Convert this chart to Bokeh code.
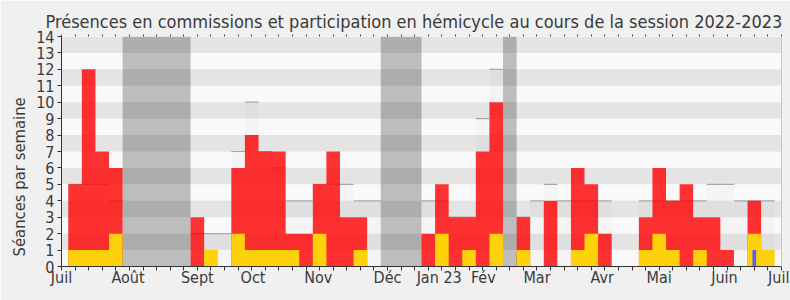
from bokeh.plotting import figure
from bokeh.models import ColumnDataSource, FixedTicker, LinearAxis, Range1d, Title
from bokeh.embed import file_html
from bokeh.resources import INLINE

# ---- data (one value per week of the session, week 1..52) ----
weeks = list(range(1, 53))
commission = [5, 12, 7, 6, 0, 0, 0, 0, 0, 3,
              0, 0, 6, 8, 7, 7, 2, 2, 5, 7,
              3, 3, 0, 0, 0, 0, 2, 5, 3, 3,
              7, 10, 0, 3, 0, 4, 0, 6, 5, 2,
              0, 0, 3, 6, 4, 5, 3, 3, 1, 0,
              4, 0]
hemicycle = [1, 1, 1, 2, 0, 0, 0, 0, 0, 0,
             1, 0, 2, 1, 1, 1, 1, 0, 2, 0,
             0, 1, 0, 0, 0, 0, 0, 2, 0, 1,
             0, 2, 0, 1, 0, 0, 0, 1, 2, 0,
             0, 0, 1, 2, 1, 0, 1, 0, 0, 0,
             2, 1]
questions = [0] * 50 + [1, 0]
median = [5, 5, 5, 4, 0, 0, 0, 0, 0, 2,
          2, 2, 7, 10, 7, 6, 4, 4, 5, 5,
          5, 4, 4, 0, 0, 0, 4, 4, 3, 3,
          9, 12, 0, 3, 4, 5, 4, 4, 4, 4,
          0, 0, 4, 4, 4, 4, 4, 5, 5, 4,
          4, 4]
vacation_start = [5, 24, 33]
vacation_end = [9, 26, 33]
month_labels = ["Juil", "Août", "Sept", "Oct", "Nov", "Déc", "Jan 23",
                "Fév", "Mar", "Avr", "Mai", "Juin", "Juil"]
month_label_pos = [0.0, 4.9, 10.0, 14.1, 18.9, 24.0, 27.8,
                   31.05, 35.0, 39.8, 44.0, 48.8, 52.8]
week_ticks = list(range(0, 54))
y_max = 14

FONT = "DejaVu Sans Condensed"
TXT = "#3a3a3a"


def step_runs(xs, vals):
    """Step-shaped outlines (in data units) of runs of adjacent non-zero weekly bars."""
    out_x, out_y = [], []
    cur_x, cur_y = None, None
    for x, v in zip(xs, vals):
        if v > 0:
            if cur_x is None:
                cur_x, cur_y = [x - 0.5], [0]
            cur_x += [x - 0.5, x + 0.5]
            cur_y += [v, v]
        elif cur_x is not None:
            cur_x.append(cur_x[-1]); cur_y.append(0)
            out_x.append(cur_x); out_y.append(cur_y)
            cur_x = None
    if cur_x is not None:
        cur_x.append(cur_x[-1]); cur_y.append(0)
        out_x.append(cur_x); out_y.append(cur_y)
    return out_x, out_y


p = figure(width=790, height=300, output_backend="svg", toolbar_location=None,
           x_range=Range1d(0, 53), y_range=Range1d(0, y_max),
           min_border_left=61, min_border_right=9, min_border_top=36,
           min_border_bottom=34, x_axis_location=None, y_axis_location=None,
           title="Présences en commissions et participation en hémicycle au cours de la session 2022-2023")
p.border_fill_color = "#f0f0f0"
p.background_fill_color = "#f9f9f9"
p.outline_line_color = None
p.grid.visible = False
p.title.text_font = FONT
p.title.text_font_size = "18px"
p.title.text_font_style = "normal"
p.title.text_color = TXT
p.title.align = "left"
p.title.offset = -16
p.title.standoff = 6

# horizontal bands
band_bottoms = list(range(1, y_max, 2))
p.quad(left=0, right=53, bottom=band_bottoms, top=[b + 1 for b in band_bottoms],
       fill_color="#e4e4e4", line_color=None)

src = ColumnDataSource(dict(week=weeks, commission=commission, hemicycle=hemicycle,
                            questions=questions, median=median,
                            left=[w - 0.5 for w in weeks], right=[w + 0.5 for w in weeks]))

# median of all deputies (drawn below the bars)
p.vbar(x="week", top="median", width=1, source=src,
       fill_color="black", fill_alpha=0.02, line_color=None)
p.segment(x0="left", x1="right", y0="median", y1="median", source=src,
          line_color="#a8a8a8", line_width=1.2)

# commission presence (red) and hemicycle participation (yellow)
rx, ry = step_runs(weeks, commission)
p.patches(xs=rx, ys=ry, fill_color="#ff0000", fill_alpha=0.8, line_color=None)
hx, hy = step_runs(weeks, hemicycle)
p.patches(xs=hx, ys=hy, fill_color="#fdd20b", line_color=None)
p.vbar(x="week", top="questions", width=0.27, source=src,
       fill_color="#5b5bff", line_color=None)

# vacations
p.quad(left=[s - 0.5 for s in vacation_start], right=[e + 0.5 for e in vacation_end],
       bottom=0, top=y_max, fill_color="black", fill_alpha=0.24, line_color=None)

# axes
yax = LinearAxis(ticker=FixedTicker(ticks=list(range(0, y_max + 1))))
yax.major_label_text_font = FONT
yax.major_label_text_font_size = "16px"
yax.major_label_text_color = TXT
yax.major_tick_out = 4
yax.major_tick_in = 0
yax.major_label_standoff = 3
yax.minor_tick_line_color = None
yax.axis_line_color = "#333333"
yax.major_tick_line_color = "#333333"
p.add_layout(yax, "left")

ylab = Title(text="Séances par semaine", align="left", offset=10,
             text_font=FONT, text_font_size="16.5px", text_font_style="normal",
             text_color=TXT, standoff=10)
p.add_layout(ylab, "left")

xax = LinearAxis(ticker=FixedTicker(ticks=month_label_pos, minor_ticks=week_ticks))
xax.major_label_overrides = {pos: lab for pos, lab in zip(month_label_pos, month_labels)}
xax.major_label_text_font = FONT
xax.major_label_text_font_size = "16px"
xax.major_label_text_color = TXT
xax.major_tick_out = 0
xax.major_tick_in = 0
xax.major_label_standoff = -3
xax.major_tick_line_color = None
xax.minor_tick_out = 4
xax.minor_tick_in = 0
xax.minor_tick_line_color = "#333333"
xax.axis_line_color = "#333333"
p.add_layout(xax, "below")

top_ax = LinearAxis(ticker=FixedTicker(ticks=[], minor_ticks=week_ticks))
top_ax.axis_line_color = None
top_ax.minor_tick_out = 2
top_ax.minor_tick_in = 0
top_ax.minor_tick_line_color = "#444444"
top_ax.major_label_text_font_size = "0px"
p.add_layout(top_ax, "above")

right_ax = LinearAxis(ticker=FixedTicker(ticks=[]))
right_ax.axis_line_color = "#c8c8c8"
right_ax.major_label_text_font_size = "0px"
p.add_layout(right_ax, "right")

open("out.html", "w").write(file_html(p, INLINE))
